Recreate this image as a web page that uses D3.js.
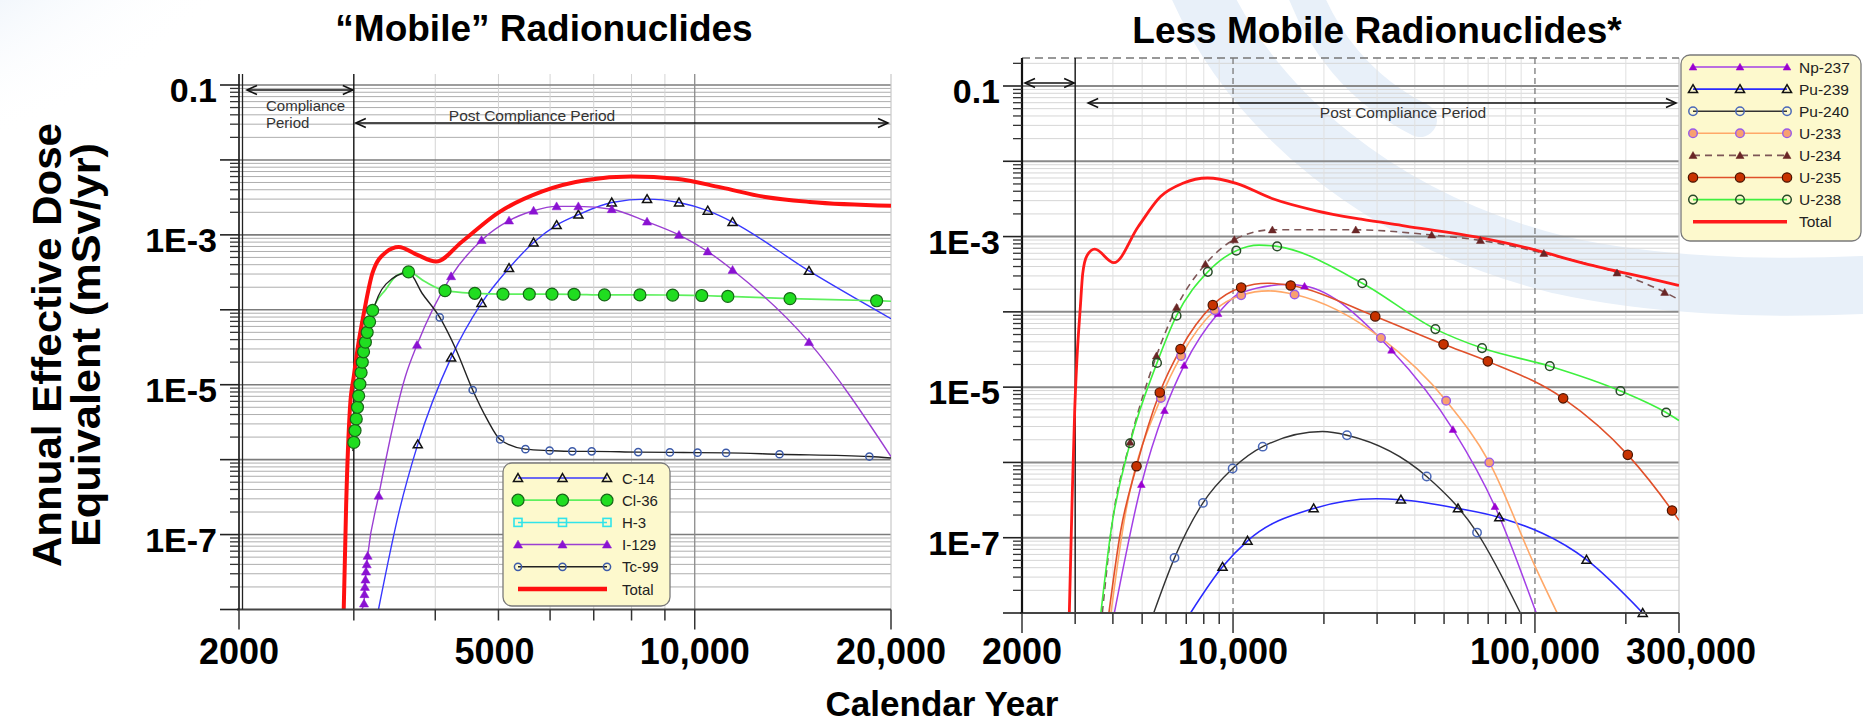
<!DOCTYPE html>
<html><head><meta charset="utf-8">
<script src="https://cdn.jsdelivr.net/npm/d3@7"></script>
<style>
body{margin:0;background:#fff;}
svg{display:block;font-family:"Liberation Sans",Arial,Helvetica,sans-serif;}
</style>
</head><body>
<svg id="c" width="1863" height="726"></svg>
<script>
// ---------------- DATA ----------------
const leftTitle = "\u201CMobile\u201D Radionuclides";
const rightTitle = "Less Mobile Radionuclides*";
const yAxisTitle = ["Annual Effective Dose", "Equivalent (mSv/yr)"];
const xAxisTitle = "Calendar Year";
const yTicks = [0.1, 1e-3, 1e-5, 1e-7];
const yTickLabels = ["0.1", "1E-3", "1E-5", "1E-7"];
const leftXTicks = [2000, 5000, 10000, 20000];
const leftXTickLabels = ["2000", "5000", "10,000", "20,000"];
const rightXTicks = [2000, 10000, 100000, 300000];
const rightXTickLabels = ["2000", "10,000", "100,000", "300,000"];
const complianceEnd = 3000;
const complianceText = ["Compliance", "Period"];
const postComplianceText = "Post Compliance Period";
const leftNames = ["C-14", "Cl-36", "H-3", "I-129", "Tc-99", "Total"];
const rightNames = ["Np-237", "Pu-239", "Pu-240", "U-233", "U-234", "U-235", "U-238", "Total"];

// [year, dose (mSv/yr), marker shown (1) or not (0)]
const c14 = [[3273,1e-8,0],[3524,2.1e-7,0],[3760,1.6e-6,1],[4230,2.3e-5,1],[4710,1.23e-4,1],[5190,3.6e-4,1],
  [5660,7.9e-4,1],[6140,1.35e-3,1],[6630,1.86e-3,1],[7460,2.7e-3,1],[8450,3.0e-3,1],[9460,2.7e-3,1],
  [10470,2.1e-3,1],[11430,1.48e-3,1],[14970,3.3e-4,1],[20000,7.6e-5,0]];
const cl36 = [[2990,1.5e-6,0],[3000,1.7e-6,1],[3013,2.45e-6,1],[3026,3.5e-6,1],[3039,5.0e-6,1],[3052,7.1e-6,1],
  [3065,1.02e-5,1],[3078,1.45e-5,1],[3091,2.0e-5,1],[3105,2.75e-5,1],[3125,3.7e-5,1],[3145,5.0e-5,1],
  [3172,6.9e-5,1],[3206,9.8e-5,1],[3363,1.9e-4,0],[3480,2.8e-4,0],[3640,3.2e-4,1],[3850,2.4e-4,0],
  [4140,1.8e-4,1],[4600,1.66e-4,1],[5080,1.62e-4,1],[5575,1.62e-4,1],[6040,1.62e-4,1],[6530,1.61e-4,1],
  [7270,1.58e-4,1],[8240,1.58e-4,1],[9250,1.57e-4,1],[10250,1.55e-4,1],[11240,1.51e-4,1],[14000,1.41e-4,1],
  [19010,1.32e-4,1],[20000,1.3e-4,0]];
const h3 = [];
const i129 = [[3084,1e-8,0],[3110,1.2e-8,1],[3115,1.6e-8,1],[3120,2.0e-8,1],[3126,2.5e-8,1],[3132,3.2e-8,1],
  [3140,4.0e-8,1],[3150,5.2e-8,1],[3275,3.3e-7,1],[3600,1.3e-5,0],[3750,3.4e-5,1],[4230,2.8e-4,1],
  [4710,8.5e-4,1],[5190,1.55e-3,1],[5660,2.1e-3,1],[6140,2.4e-3,1],[6630,2.4e-3,1],[7460,2.2e-3,1],
  [8450,1.5e-3,1],[9460,1.0e-3,1],[10470,6.0e-4,1],[11430,3.4e-4,1],[14970,3.7e-5,1],[20000,1.1e-6,0]];
const tc99 = [[2990,1.3e-6,0],[3080,1.3e-5,0],[3200,8.5e-5,0],[3360,2.2e-4,0],[3640,3.15e-4,0],[3820,1.65e-4,0],
  [4064,7.9e-5,1],[4300,3.0e-5,0],[4565,8.5e-6,1],[4800,3.5e-6,0],[5030,1.86e-6,1],[5500,1.38e-6,1],
  [5990,1.32e-6,1],[6490,1.29e-6,1],[6950,1.29e-6,1],[8190,1.26e-6,1],[9160,1.25e-6,1],[10100,1.24e-6,1],
  [11170,1.23e-6,1],[13490,1.18e-6,1],[18530,1.1e-6,1],[20000,1.05e-6,0]];
const totalLeft = [[2895,1e-8,0],[2920,2.5e-7,0],[2960,5e-6,0],[3000,1.3e-5,0],[3040,3.0e-5,0],[3109,9.1e-5,0],
  [3205,3.1e-4,0],[3363,5.9e-4,0],[3515,6.9e-4,0],[3755,5.4e-4,0],[4012,4.4e-4,0],[4395,8.1e-4,0],
  [4987,1.95e-3,0],[5838,3.8e-3,0],[6834,5.4e-3,0],[7998,6.0e-3,0],[9365,5.6e-3,0],[10965,4.3e-3,0],
  [12830,3.2e-3,0],[15020,2.75e-3,0],[20000,2.45e-3,0]];

const np237 = [[4045,1e-8,0],[4970,5.1e-7,1],[5930,4.9e-6,1],[6890,1.95e-5,1],[8920,9.5e-5,1],[10640,1.8e-4,0],
  [15000,2.3e-4,0],[17250,2.2e-4,1],[33500,3.1e-5,1],[53500,2.75e-6,1],[73700,2.6e-7,1],[101000,1e-8,0]];
const pu239 = [[7230,1e-8,0],[9230,4.1e-8,1],[11170,9.1e-8,1],[18490,2.45e-7,1],[29800,3.3e-7,0],[35970,3.2e-7,1],
  [55600,2.45e-7,1],[76200,1.86e-7,1],[148200,5.1e-8,1],[227500,1e-8,1]];
const pu240 = [[5460,1e-8,0],[6400,5.4e-8,1],[7950,2.9e-7,1],[9970,8.3e-7,1],[12540,1.62e-6,1],[19770,2.57e-6,0],
  [23840,2.3e-6,1],[43800,6.5e-7,1],[64300,1.17e-7,1],[89500,1e-8,0]];
const u233 = [[3940,1e-8,0],[4300,1.2e-7,0],[5770,7.2e-6,1],[6730,2.6e-5,1],[8700,1.05e-4,1],[10640,1.66e-4,1],
  [13100,1.9e-4,0],[15990,1.7e-4,1],[30900,4.5e-5,1],[50800,6.6e-6,1],[70600,1.0e-6,1],[100000,4.2e-8,0],
  [118500,1e-8,0]];
const u234 = [[3690,1e-8,0],[3970,1.45e-7,0],[4560,1.86e-6,1],[5575,2.6e-5,1],[6500,1.15e-4,1],[8100,4.3e-4,1],
  [10100,9.1e-4,1],[13500,1.23e-3,1],[25500,1.23e-3,1],[45500,1.05e-3,1],[66000,8.9e-4,1],[107000,6.0e-4,1],
  [187000,3.3e-4,1],[269000,1.82e-4,1],[300000,1.45e-4,0]];
const u235 = [[3880,1e-8,0],[4240,1.2e-7,0],[4790,8.9e-7,1],[5720,8.5e-6,1],[6700,3.2e-5,1],[8570,1.23e-4,1],
  [10640,2.1e-4,1],[13000,2.4e-4,0],[15520,2.24e-4,1],[29580,8.7e-5,1],[49800,3.7e-5,1],[69800,2.2e-5,1],
  [124000,7.1e-6,1],[203000,1.26e-6,1],[284500,2.3e-7,1],[300000,1.7e-7,0]];
const u238 = [[3650,1e-8,0],[3950,1.3e-7,0],[4560,1.8e-6,1],[5600,2.1e-5,1],[6500,8.9e-5,1],[8250,3.4e-4,1],
  [10250,6.5e-4,1],[12200,7.7e-4,0],[14000,7.4e-4,1],[26800,2.4e-4,1],[46800,5.9e-5,1],[66800,3.3e-5,1],
  [112000,1.9e-5,1],[192000,8.9e-6,1],[272000,4.6e-6,1],[300000,3.6e-6,0]];
const totalRight = [[2869,1e-8,0],[2930,3e-7,0],[2990,5e-6,0],[3040,2.3e-5,0],[3121,1.17e-4,0],[3177,3.2e-4,0],
  [3285,5.6e-4,0],[3482,6.8e-4,0],[4030,4.5e-4,0],[4850,1.35e-3,0],[5755,3.4e-3,0],[6820,5.1e-3,0],
  [8230,6.0e-3,0],[10250,5.1e-3,0],[13460,3.2e-3,0],[18880,2.2e-3,0],[26560,1.7e-3,0],[37260,1.38e-3,0],
  [64270,9.8e-4,0],[96550,6.9e-4,0],[145200,4.4e-4,0],[256600,2.6e-4,0],[300000,2.24e-4,0]];

// ---------------- STYLES ----------------
const leftStyles = [
  {data:c14,  line:"#3838ff", w:1.4, mk:"triOpen", size:36, fill:"none", stroke:"#111", mw:1.5},
  {data:cl36, line:"#5ef05e", w:1.7, mk:"circle", r:6, fill:"#20dd20", stroke:"#176617", mw:1.2},
  {data:h3,   line:"#30e4ea", w:1.4, mk:"square", size:8, fill:"none", stroke:"#30e4ea", mw:1.6},
  {data:i129, line:"#9b3fd2", w:1.4, mk:"triFill", size:36, fill:"#8a12d2", stroke:"#8a12d2", mw:0.5},
  {data:tc99, line:"#222", w:1.4, mk:"circle", r:3.6, fill:"none", stroke:"#3c5aa8", mw:1.5},
  {data:totalLeft, line:"#ff1010", w:4, mk:null}
];
const rightStyles = [
  {data:np237, line:"#a33fe6", w:1.5, mk:"triFill", size:26, fill:"#9a00d0", stroke:"#9a00d0", mw:0.5},
  {data:pu239, line:"#2a2aff", w:1.6, mk:"triOpen", size:36, fill:"none", stroke:"#111", mw:1.5},
  {data:pu240, line:"#333", w:1.4, mk:"circle", r:4.2, fill:"none", stroke:"#4a68b8", mw:1.5},
  {data:u233,  line:"#ffa868", w:1.6, mk:"circle", r:4.3, fill:"#f8a070", stroke:"#9a5ae8", mw:1.4},
  {data:u234,  line:"#7d5656", w:1.6, dash:"7,5", mk:"triFill", size:28, fill:"#6a2626", stroke:"#6a2626", mw:0.5},
  {data:u235,  line:"#e0502a", w:1.6, mk:"circle", r:4.7, fill:"#c83200", stroke:"#4a1400", mw:1.2},
  {data:u238,  line:"#3ef03e", w:1.6, mk:"circle", r:4.3, fill:"none", stroke:"#284a28", mw:1.5},
  {data:totalRight, line:"#ff1a1a", w:2.8, mk:null}
];

// ---------------- DRAW ----------------
const svg = d3.select("#c");
const defs = svg.append("defs");
const rg = defs.append("radialGradient").attr("id","tl").attr("cx","0").attr("cy","0").attr("r","1");
rg.append("stop").attr("offset","0%").attr("stop-color","#c4d9f0");
rg.append("stop").attr("offset","55%").attr("stop-color","#e2ecf8");
rg.append("stop").attr("offset","100%").attr("stop-color","#ffffff").attr("stop-opacity",0);
svg.append("rect").attr("width",1863).attr("height",726).attr("fill","#fff");
svg.append("ellipse").attr("cx",0).attr("cy",0).attr("rx",300).attr("ry",190).attr("fill","url(#tl)");

// pale watermark behind right panel
const wm = svg.append("g").attr("fill","none").attr("stroke","#e8f0f9").attr("stroke-linecap","round");
wm.append("path").attr("d","M1195,-20 C1250,110 1380,220 1560,265 C1650,285 1760,290 1863,285").attr("stroke-width",58);
wm.append("path").attr("d","M1300,-20 C1320,40 1360,90 1420,120").attr("stroke-width",34);

function sym(type, size){
  return d3.symbol().type(d3.symbolTriangle).size(size)();
}
function drawMarker(g, s, cx, cy){
  if(s.mk==="circle"){
    g.append("circle").attr("cx",cx).attr("cy",cy).attr("r",s.r).attr("fill",s.fill).attr("stroke",s.stroke).attr("stroke-width",s.mw);
  } else if(s.mk==="square"){
    g.append("rect").attr("x",cx-s.size/2).attr("y",cy-s.size/2).attr("width",s.size).attr("height",s.size)
      .attr("fill",s.fill).attr("stroke",s.stroke).attr("stroke-width",s.mw);
  } else if(s.mk){
    g.append("path").attr("d",sym(s.mk,s.size)).attr("transform",`translate(${cx},${cy+0.8})`)
      .attr("fill",s.fill).attr("stroke",s.stroke).attr("stroke-width",s.mw).attr("stroke-linejoin","miter");
  }
}
function arrow(g, xa, xb, y){
  g.append("line").attr("x1",xa).attr("x2",xb).attr("y1",y).attr("y2",y).attr("stroke","#111").attr("stroke-width",1.5);
  g.append("path").attr("d",`M${xa+10},${y-4.5}L${xa},${y}L${xa+10},${y+4.5}`).attr("fill","none").attr("stroke","#111").attr("stroke-width",1.6);
  g.append("path").attr("d",`M${xb-10},${y-4.5}L${xb},${y}L${xb-10},${y+4.5}`).attr("fill","none").attr("stroke","#111").attr("stroke-width",1.6);
}

function drawPanel(p){
  const x = d3.scaleLog().domain(p.xDomain).range([p.x0, p.x1]);
  const y = d3.scaleLog().domain([1e-8, 0.1]).range([p.yBot, p.y01]);
  const g = svg.append("g");
  const id = "clip"+p.key;
  defs.append("clipPath").attr("id",id).append("rect")
    .attr("x",p.x0).attr("y",p.yTop).attr("width",p.x1-p.x0).attr("height",p.yBot-p.yTop);

  const minorY=[], majorY=[];
  for(let k=-8;k<=-1;k++){
    const b=Math.pow(10,k);
    if(k>-8) majorY.push(b);
    for(let m=2;m<=9;m++){ const v=m*b; if(y(v)>=p.yTop) minorY.push(v); }
  }
  g.selectAll(null).data(minorY).enter().append("line")
    .attr("x1",p.x0).attr("x2",p.x1).attr("y1",d=>y(d)).attr("y2",d=>y(d))
    .attr("stroke",p.minorH).attr("stroke-width",1);
  g.selectAll(null).data(p.vMinor).enter().append("line")
    .attr("x1",d=>x(d)).attr("x2",d=>x(d)).attr("y1",p.yTop).attr("y2",p.yBot)
    .attr("stroke",p.minorV).attr("stroke-width",1);
  g.selectAll(null).data(majorY).enter().append("line")
    .attr("x1",p.x0).attr("x2",p.x1).attr("y1",d=>y(d)).attr("y2",d=>y(d))
    .attr("stroke",p.majorH).attr("stroke-width",p.majorHW);
  g.selectAll(null).data(p.vMajor).enter().append("line")
    .attr("x1",d=>x(d)).attr("x2",d=>x(d)).attr("y1",p.yTop).attr("y2",p.yBot)
    .attr("stroke",p.majorV).attr("stroke-width",1.3).attr("stroke-dasharray",p.majorVDash);
  g.append("line").attr("x1",p.x1).attr("x2",p.x1).attr("y1",p.yTop).attr("y2",p.yBot).attr("stroke","#c8c8c8").attr("stroke-width",1.2);
  if(p.topDash){
    g.append("line").attr("x1",p.x0).attr("x2",p.x1).attr("y1",p.yTop).attr("y2",p.yTop)
      .attr("stroke","#777").attr("stroke-width",1.3).attr("stroke-dasharray","8,5");
  }
  g.append("line").attr("x1",x(complianceEnd)).attr("x2",x(complianceEnd)).attr("y1",p.yTop).attr("y2",p.yBot)
    .attr("stroke","#111").attr("stroke-width",1.4);

  const lineGen = d3.line().x(d=>x(d[0])).y(d=>y(d[1])).curve(d3.curveMonotoneX);
  const sg = g.append("g").attr("clip-path",`url(#${id})`);
  p.styles.forEach(s=>{
    if(!s.data.length) return;
    sg.append("path").attr("d",lineGen(s.data)).attr("fill","none").attr("stroke",s.line)
      .attr("stroke-width",s.w).attr("stroke-dasharray",s.dash||null).attr("stroke-linejoin","round");
  });
  const mg = g.append("g");
  p.styles.forEach(s=>{
    if(!s.mk) return;
    s.data.filter(d=>d[2]).forEach(d=>drawMarker(mg,s,x(d[0]),y(d[1])));
  });

  g.append("line").attr("x1",p.x0-2).attr("x2",p.x1).attr("y1",p.yBot).attr("y2",p.yBot).attr("stroke","#444").attr("stroke-width",2);
  g.append("line").attr("x1",p.x0).attr("x2",p.x0).attr("y1",p.yTop).attr("y2",p.yBot).attr("stroke","#111").attr("stroke-width",p.axisW);
  if(p.doubleAxis) g.append("line").attr("x1",p.x0+3.5).attr("x2",p.x0+3.5).attr("y1",p.yTop).attr("y2",p.yBot).attr("stroke","#222").attr("stroke-width",1.3);
  g.selectAll(null).data(majorY.concat([1e-8])).enter().append("line")
    .attr("x1",p.x0-19).attr("x2",p.x0).attr("y1",d=>y(d)).attr("y2",d=>y(d)).attr("stroke","#222").attr("stroke-width",1.6);
  g.selectAll(null).data(minorY).enter().append("line")
    .attr("x1",p.x0-9).attr("x2",p.x0).attr("y1",d=>y(d)).attr("y2",d=>y(d)).attr("stroke","#333").attr("stroke-width",1.3);
  g.selectAll(null).data(p.xMinorTicks).enter().append("line")
    .attr("x1",d=>x(d)).attr("x2",d=>x(d)).attr("y1",p.yBot).attr("y2",p.yBot+11).attr("stroke","#333").attr("stroke-width",1.5);
  g.selectAll(null).data(p.xMajorTicks).enter().append("line")
    .attr("x1",d=>x(d)).attr("x2",d=>x(d)).attr("y1",p.yBot).attr("y2",p.yBot+20).attr("stroke","#333").attr("stroke-width",1.5);

  g.selectAll(null).data(yTicks).enter().append("text")
    .attr("x",p.yLabelX).attr("y",d=>y(d)+17).attr("text-anchor","end")
    .attr("font-size",34).attr("font-weight","bold").attr("fill","#000")
    .text((d,i)=>yTickLabels[i]);
  g.selectAll(null).data(p.xTicks).enter().append("text")
    .attr("x",(d,i)=>x(d)+(p.xLabelDx[i]||0)).attr("y",664).attr("text-anchor","middle")
    .attr("font-size",36).attr("font-weight","bold").attr("fill","#000")
    .text((d,i)=>p.xTickLabels[i]);

  g.append("text").attr("x",p.titleX).attr("y",p.titleY).attr("text-anchor","middle")
    .attr("font-size",37).attr("font-weight","bold").text(p.title);

  const ag = g.append("g");
  arrow(ag, p.x0+p.cArrowInset, x(complianceEnd)-1, p.cArrowY);
  arrow(ag, x(complianceEnd)+p.pArrowInset, p.x1-3, p.pArrowY);
  ag.append("text").attr("x",p.pTextX).attr("y",p.pTextY).attr("text-anchor","middle")
    .attr("font-size",15.5).attr("fill","#333").text(postComplianceText);
  if(p.showComplianceText){
    complianceText.forEach((t,i)=>ag.append("text").attr("x",p.x0+27).attr("y",111+i*17)
      .attr("font-size",15).attr("fill","#333").text(t));
  }

  const L = p.legend;
  const lg = g.append("g");
  lg.append("rect").attr("x",L.x).attr("y",L.y).attr("width",L.w).attr("height",L.h).attr("rx",9)
    .attr("fill","#fdf9cd").attr("stroke","#7a7a7a").attr("stroke-width",1.3);
  p.styles.forEach((s,i)=>{
    const ry = L.row0 + i*L.dy;
    lg.append("line").attr("x1",L.lx0).attr("x2",L.lx1).attr("y1",ry).attr("y2",ry)
      .attr("stroke",s.line).attr("stroke-width",s.mk? Math.max(s.w,1.5): (p.key==="L"?4.5:3.5))
      .attr("stroke-dasharray",s.dash||null);
    if(s.mk){
      [L.lx0,(L.lx0+L.lx1)/2,L.lx1].forEach(mx=>drawMarker(lg,s,mx,ry));
    }
    lg.append("text").attr("x",L.tx).attr("y",ry+5.5).attr("font-size",L.fs).attr("fill","#222").text(p.names[i]);
  });
}

drawPanel({
  key:"L", xDomain:[2000,20000], x0:239, x1:891, yTop:74, y01:85, yBot:609.5,
  minorH:"#aeaeae", majorH:"#7c7c7c", majorHW:1.6, minorV:"#d4d4d4", majorV:"#8a8a8a", majorVDash:null,
  vMinor:[4000,5000,6000,7000,8000,9000], vMajor:[10000], topDash:false, axisW:1.6, doubleAxis:true,
  xMinorTicks:[3000,4000,5000,6000,7000,8000,9000], xMajorTicks:[2000,10000,20000],
  xTicks:leftXTicks, xTickLabels:leftXTickLabels, xLabelDx:[0,-4,0,0], yLabelX:217,
  title:leftTitle, titleX:544, titleY:41,
  cArrowInset:8, cArrowY:90, pArrowInset:2, pArrowY:123, pTextX:532, pTextY:121, showComplianceText:true,
  styles:leftStyles, names:leftNames,
  legend:{x:503,y:463,w:167,h:143,row0:478,dy:22.2,lx0:518,lx1:607,tx:622,fs:15}
});
drawPanel({
  key:"R", xDomain:[2000,300000], x0:1022, x1:1679, yTop:58, y01:86, yBot:613,
  minorH:"#d6d6d6", majorH:"#8a8a8a", majorHW:2, minorV:"#e0e0e0", majorV:"#7a7a7a", majorVDash:"6,4",
  vMinor:[4000,5000,6000,7000,8000,9000,20000,30000,40000,50000,60000,70000,80000,90000,200000],
  vMajor:[10000,100000], topDash:true, axisW:2.2, doubleAxis:false,
  xMinorTicks:[3000,4000,5000,6000,7000,8000,9000,20000,30000,40000,50000,60000,70000,80000,90000,200000],
  xMajorTicks:[2000,10000,100000,300000],
  xTicks:rightXTicks, xTickLabels:rightXTickLabels, xLabelDx:[0,0,0,12], yLabelX:1000,
  title:rightTitle, titleX:1377, titleY:43,
  cArrowInset:3, cArrowY:83, pArrowInset:13, pArrowY:103, pTextX:1403, pTextY:118, showComplianceText:false,
  styles:rightStyles, names:rightNames,
  legend:{x:1681,y:55,w:180,h:186,row0:67,dy:22.1,lx0:1693,lx1:1787,tx:1799,fs:15.5}
});

svg.append("text").attr("x",942).attr("y",716).attr("text-anchor","middle")
  .attr("font-size",35).attr("font-weight","bold").text(xAxisTitle);
[[61,444],[100,404]].forEach((d,i)=>{
  svg.append("text").attr("transform",`translate(${d[0]},345) rotate(-90)`).attr("text-anchor","middle")
    .attr("font-size",40).attr("font-weight","bold")
    .attr("textLength",d[1]).attr("lengthAdjust","spacingAndGlyphs").text(yAxisTitle[i]);
});
</script>
</body></html>
